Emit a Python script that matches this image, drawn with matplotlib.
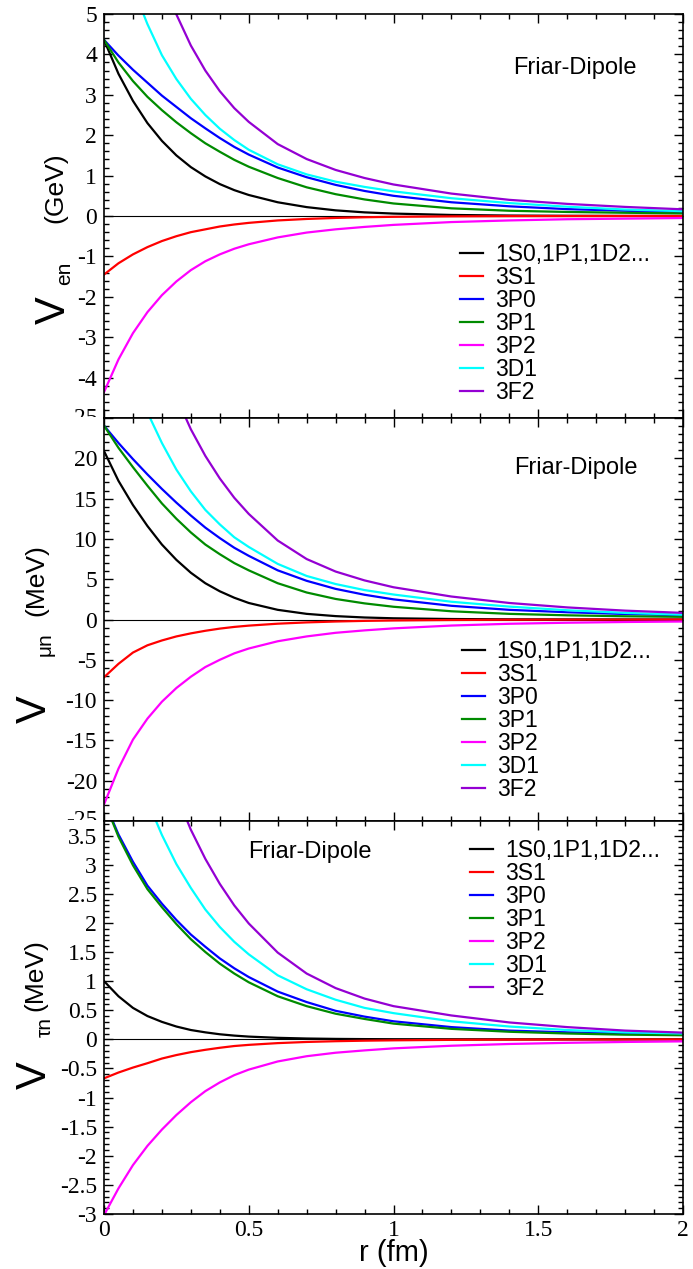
import matplotlib
matplotlib.use("Agg")
import matplotlib.pyplot as plt
from matplotlib.ticker import MultipleLocator, FuncFormatter
from matplotlib.transforms import Bbox

plt.rcParams['axes.unicode_minus'] = False

# ---------------- data ----------------
r = [0, 0.05, 0.1, 0.15, 0.2, 0.25, 0.3, 0.35, 0.4, 0.45, 0.5,
     0.6, 0.7, 0.8, 0.9, 1.0, 1.2, 1.4, 1.6, 1.8, 2.0]

labels = ["1S0,1P1,1D2...", "3S1", "3P0", "3P1", "3P2", "3D1", "3F2"]
colors = ["#000000", "#ff0000", "#0000ff", "#008b00", "#ff00ff", "#00ffff", "#9400d3"]

# electron-neutron (GeV)
e_1S0 = [4.36, 3.52, 2.85, 2.30, 1.86, 1.50, 1.21, 0.98, 0.79, 0.64, 0.52,
         0.34, 0.22, 0.14, 0.09, 0.06, 0.026, 0.011, 0.005, 0.002, 0.001]
e_3S1 = [-1.45, -1.17, -0.95, -0.77, -0.62, -0.50, -0.40, -0.33, -0.26, -0.21, -0.17,
         -0.11, -0.073, -0.048, -0.031, -0.02, -0.009, -0.004, -0.002, -0.001, 0.0]
e_3P0 = [4.36, 3.97, 3.62, 3.30, 2.98, 2.70, 2.42, 2.17, 1.93, 1.71, 1.52,
         1.20, 0.96, 0.77, 0.62, 0.50, 0.34, 0.24, 0.17, 0.13, 0.10]
e_3P1 = [4.36, 3.80, 3.34, 2.95, 2.62, 2.32, 2.05, 1.80, 1.59, 1.39, 1.22,
         0.94, 0.71, 0.54, 0.41, 0.31, 0.19, 0.13, 0.10, 0.08, 0.065]
e_3P2 = [-4.36, -3.55, -2.90, -2.38, -1.96, -1.62, -1.34, -1.12, -0.95, -0.81, -0.70,
         -0.53, -0.41, -0.33, -0.27, -0.22, -0.15, -0.11, -0.08, -0.065, -0.05]
e_3D1 = [8.3, 6.8, 5.65, 4.75, 3.98, 3.39, 2.90, 2.50, 2.16, 1.88, 1.64,
         1.28, 1.03, 0.85, 0.72, 0.61, 0.44, 0.32, 0.23, 0.16, 0.12]
e_3F2 = [12.2, 10.2, 8.5, 7.1, 5.94, 4.99, 4.22, 3.60, 3.09, 2.67, 2.33,
         1.78, 1.41, 1.14, 0.94, 0.78, 0.555, 0.40, 0.30, 0.225, 0.165]

# muon-neutron (MeV)
mu_1S0 = [20.9, 17.2, 14.2, 11.6, 9.3, 7.4, 5.8, 4.5, 3.5, 2.7, 2.05,
          1.2, 0.7, 0.42, 0.25, 0.15, 0.06, 0.02, 0.01, 0.005, 0.0]
mu_3S1 = [-7.17, -5.5, -4.1, -3.2, -2.6, -2.1, -1.72, -1.4, -1.13, -0.92, -0.76,
          -0.52, -0.36, -0.25, -0.17, -0.12, -0.06, -0.03, -0.015, -0.008, -0.004]
mu_3P0 = [24.05, 21.9, 19.9, 18.0, 16.2, 14.5, 12.9, 11.4, 10.1, 8.9, 7.9,
          6.1, 4.8, 3.8, 3.07, 2.5, 1.7, 1.2, 0.9, 0.68, 0.53]
mu_3P1 = [24.05, 21.3, 18.9, 16.6, 14.4, 12.5, 10.8, 9.3, 8.1, 7.0, 6.1,
          4.5, 3.35, 2.55, 2.0, 1.58, 1.02, 0.70, 0.52, 0.40, 0.33]
mu_3P2 = [-22.95, -18.5, -14.9, -12.3, -10.2, -8.5, -7.1, -5.9, -5.0, -4.2, -3.6,
          -2.7, -2.1, -1.65, -1.35, -1.1, -0.75, -0.53, -0.40, -0.31, -0.25]
mu_3D1 = [43.5, 36.3, 30.4, 25.7, 21.9, 18.6, 15.9, 13.6, 11.8, 10.2, 9.0,
          6.9, 5.4, 4.4, 3.65, 3.1, 2.2, 1.6, 1.15, 0.82, 0.6]
mu_3F2 = [66.0, 55.0, 46.0, 38.5, 32.5, 27.6, 23.6, 20.3, 17.5, 15.1, 13.1,
          9.8, 7.5, 5.95, 4.85, 4.0, 2.85, 2.05, 1.5, 1.1, 0.82]

# tau-neutron (MeV)
tau_1S0 = [1.0, 0.74, 0.54, 0.40, 0.30, 0.22, 0.16, 0.12, 0.087, 0.064, 0.047,
           0.026, 0.014, 0.0076, 0.004, 0.002, 0.001, 0.0, 0.0, 0.0, 0.0]
tau_3S1 = [-0.67, -0.57, -0.485, -0.41, -0.33, -0.27, -0.22, -0.18, -0.145, -0.115, -0.095,
           -0.065, -0.045, -0.032, -0.023, -0.017, -0.009, -0.005, -0.003, -0.002, -0.001]
tau_3P0 = [4.1, 3.52, 3.05, 2.64, 2.33, 2.05, 1.80, 1.59, 1.39, 1.22, 1.07,
           0.82, 0.64, 0.49, 0.39, 0.31, 0.21, 0.15, 0.12, 0.10, 0.086]
tau_3P1 = [4.1, 3.48, 2.99, 2.58, 2.27, 1.98, 1.72, 1.50, 1.30, 1.13, 0.98,
           0.74, 0.57, 0.44, 0.35, 0.27, 0.18, 0.13, 0.10, 0.08, 0.07]
tau_3P2 = [-3.02, -2.56, -2.16, -1.83, -1.55, -1.30, -1.08, -0.89, -0.74, -0.615, -0.52,
           -0.38, -0.29, -0.23, -0.19, -0.155, -0.11, -0.08, -0.06, -0.045, -0.035]
tau_3D1 = [6.6, 5.65, 4.8, 4.1, 3.51, 3.01, 2.60, 2.23, 1.93, 1.675, 1.46,
           1.10, 0.86, 0.68, 0.54, 0.45, 0.31, 0.22, 0.16, 0.12, 0.10]
tau_3F2 = [9.6, 8.1, 6.85, 5.8, 4.95, 4.2, 3.60, 3.10, 2.67, 2.30, 1.99,
           1.49, 1.13, 0.88, 0.70, 0.57, 0.41, 0.29, 0.21, 0.15, 0.115]

# y-axis label pieces: main letter, subscript, unit
ylab_main = ["V", "V", "V"]
ylab_sub = ["en", "μn", "τn"]
ylab_unit = ["(GeV)", "(MeV)", "(MeV)"]

panels = [
    dict(series=[e_1S0, e_3S1, e_3P0, e_3P1, e_3P2, e_3D1, e_3F2],
         ylim=(-5, 5), major=1, minor=0.2, hide=[-5],
         leg=(0.615, 0.434), txt=(0.8135, 0.866),
         lab=dict(vx=54, vy=310, sx=65, sy=273, ux=55, uy=188)),
    dict(series=[mu_1S0, mu_3S1, mu_3P0, mu_3P1, mu_3P2, mu_3D1, mu_3F2],
         ylim=(-25, 25), major=5, minor=1, hide=[25, -25],
         leg=(0.618, 0.448), txt=(0.815, 0.876),
         lab=dict(vx=35, vy=709, sx=45, sy=644, ux=36, uy=580)),
    dict(series=[tau_1S0, tau_3S1, tau_3P0, tau_3P1, tau_3P2, tau_3D1, tau_3F2],
         ylim=(-3, 3.75), major=0.5, minor=0.1, hide=[],
         leg=(0.632, 0.955), txt=(0.356, 0.921),
         lab=dict(vx=35, vy=1075, sx=45, sy=1027, ux=35, uy=975)),
]

W, H = 693, 1269
fig = plt.figure(figsize=(W / 100, H / 100), dpi=100)

left = 104 / W
width = 579 / W
edges = [(14, 418), (418, 821), (821, 1214)]

TICK_FS = 17
TICK_FONT = 'Liberation Serif'
SANS = 'Liberation Sans'


def fmt(v, pos):
    s = ('%.2f' % v).rstrip('0').rstrip('.')
    if s == '-0':
        s = '0'
    return s


def ftext(x_px, y_px, s, size):
    fig.text(x_px / W, 1 - y_px / H, s, rotation=90, ha='center', va='center',
             fontsize=size, fontfamily=SANS)


axes = []
for i, (p, (top, bot)) in enumerate(zip(panels, edges)):
    ax = fig.add_axes([left, 1 - bot / H, width, (bot - top) / H])
    axes.append(ax)
    ax.axhline(0, color='black', lw=0.8, zorder=1)
    for ys, c, lab in zip(p['series'], colors, labels):
        ax.plot(r, ys, color=c, lw=1.6, label=lab, zorder=2,
                solid_joinstyle='round')
    ax.set_xlim(0, 2)
    ax.set_ylim(*p['ylim'])
    ax.xaxis.set_major_locator(MultipleLocator(0.5))
    ax.xaxis.set_minor_locator(MultipleLocator(0.1))
    ax.yaxis.set_major_locator(MultipleLocator(p['major']))
    ax.yaxis.set_minor_locator(MultipleLocator(p['minor']))
    ax.tick_params(which='both', direction='in', top=True, right=True, width=1.0)
    ax.tick_params(which='major', length=6.5)
    ax.tick_params(which='minor', length=3.5)
    hide = p['hide']
    ax.yaxis.set_major_formatter(FuncFormatter(
        lambda v, pos, hide=hide: '' if any(abs(v - h) < 1e-9 for h in hide) else fmt(v, pos)))
    ax.xaxis.set_major_formatter(FuncFormatter(fmt))
    if i < 2:
        ax.tick_params(axis='x', labelbottom=False)
    for lbl in ax.get_yticklabels() + ax.get_xticklabels():
        lbl.set_fontfamily(TICK_FONT)
        lbl.set_fontsize(TICK_FS)
    ax.tick_params(axis='y', pad=5)
    ax.tick_params(axis='x', pad=4)
    for s in ax.spines.values():
        s.set_linewidth(1.2)
    ax.text(p['txt'][0], p['txt'][1], 'Friar-Dipole', transform=ax.transAxes,
            ha='center', va='center', fontsize=17, fontfamily=SANS)
    ax.legend(loc='upper left', bbox_to_anchor=p['leg'], frameon=False,
              prop=dict(family=SANS, size=16.5),
              handlelength=1.0, handletextpad=0.52, labelspacing=0.0,
              borderpad=0.0, borderaxespad=0.0)
    # y-axis label (large V, subscript, unit)
    L = p['lab']
    ftext(L['vx'], L['vy'], ylab_main[i], 30)
    ftext(L['sx'], L['sy'], ylab_sub[i], 15)
    ftext(L['ux'], L['uy'], ylab_unit[i], 19)
    if i == 2:
        ax.set_xlabel('r (fm)', fontsize=21, fontfamily=SANS)
        ax.xaxis.set_label_coords(0.5, (1214 - 1239) / (1214 - 821))

# the +-25 labels of the middle panel are partly hidden at the panel joins
ax2 = axes[1]
for val, cut in ((25, 418), (-25, 821)):
    t = ax2.annotate(fmt(val, None), xy=(0, val), xycoords=('axes fraction', 'data'),
                     xytext=(-5, 0), textcoords='offset points', ha='right', va='center',
                     fontsize=TICK_FS, fontfamily=TICK_FONT, annotation_clip=False)
    t.set_clip_on(True)
    t.set_clip_box(Bbox.from_extents(0, H - cut + 1, W, H))

fig.savefig('out.png', dpi=100)
